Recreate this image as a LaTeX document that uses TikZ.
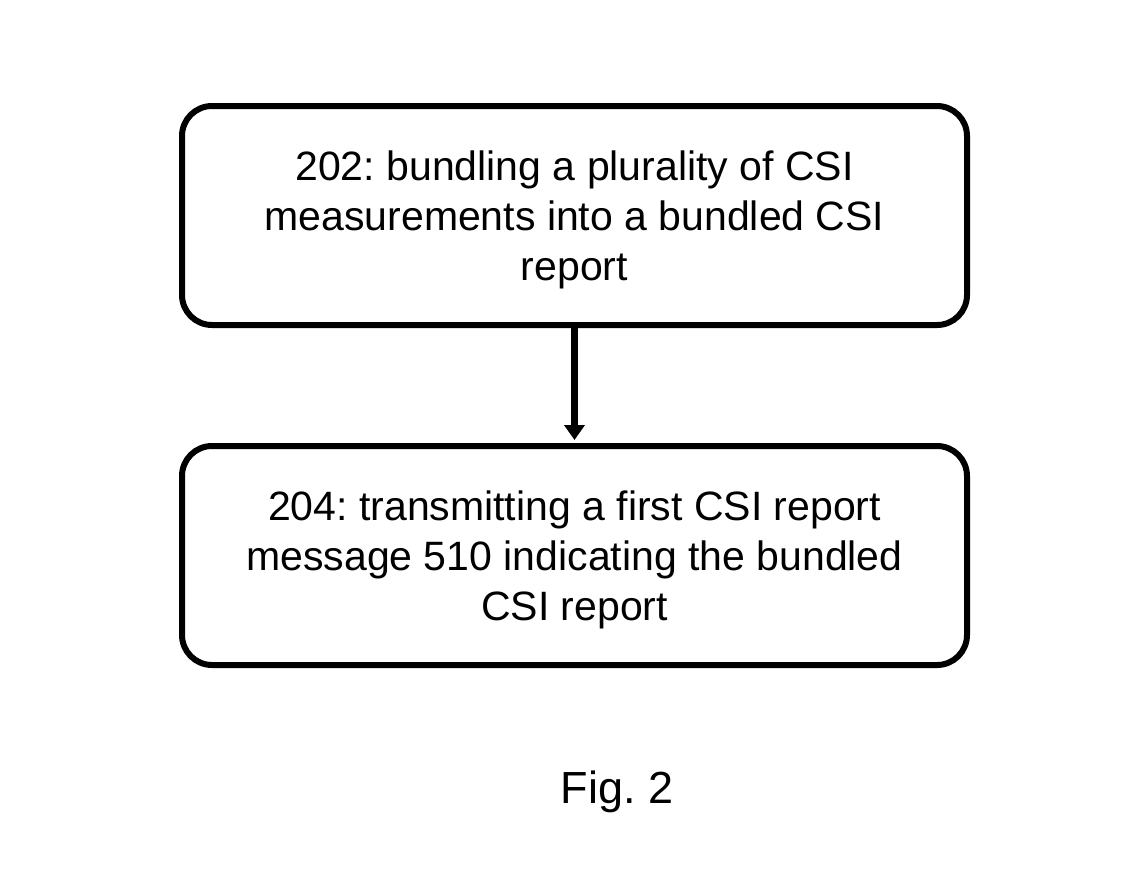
\documentclass[tikz,border=0pt]{standalone}
\usepackage{fontspec}
\setmainfont{Liberation Sans}
\usetikzlibrary{arrows.meta}
\frenchspacing
\begin{document}
\begin{tikzpicture}[x=1pt,y=-1pt,
  stepbox/.style={draw=black,line width=6pt,rounded corners=30pt,
    minimum width=785pt,minimum height=219pt,inner sep=0pt},
  steptext/.style={inner sep=0pt,align=center,font=\fontsize{41}{50}\selectfont},
  flow/.style={line width=6.5pt,-{Triangle[width=20pt,length=15pt]},shorten >=3pt}]
\useasboundingbox (0,0) rectangle (1144,887);
\node[stepbox] (s202) at (574.5,215.5) {};
\node[steptext] (t202) at (574.5,220) {202: bundling a plurality of CSI\\measurements into a bundled CSI\\report};
\node[stepbox] (s204) at (574.5,555.5) {};
\node[steptext] (t204) at (574.5,560) {204: transmitting a first CSI report\\message 510 indicating the bundled\\CSI report};
\draw[flow] (s202.south) -- (s204.north);
\node[font=\fontsize{45}{50}\selectfont] (fig) at (617,792) {Fig. 2};
\end{tikzpicture}
\end{document}
